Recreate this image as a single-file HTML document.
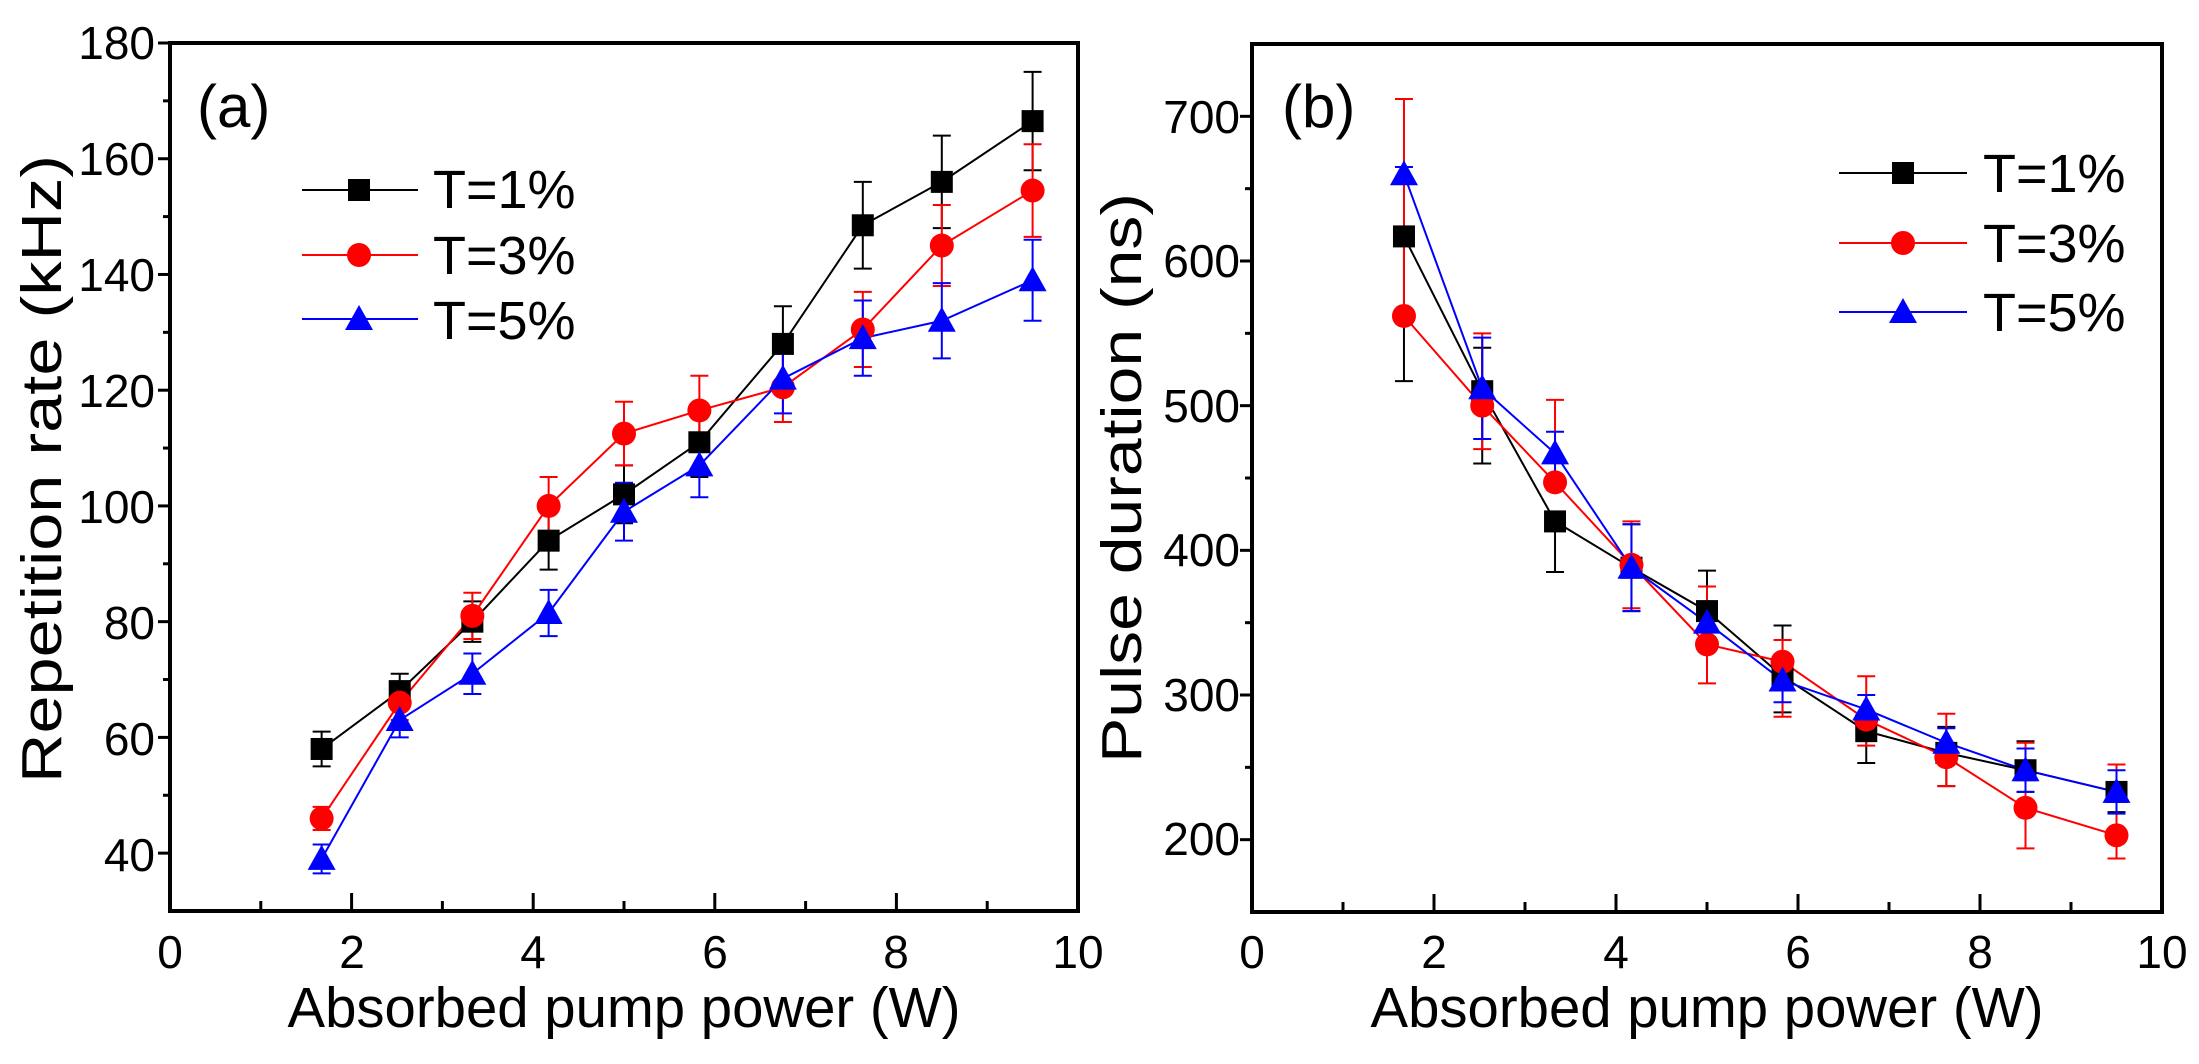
<!DOCTYPE html>
<html><head><meta charset="utf-8"><style>
html,body{margin:0;padding:0;background:#fff;}
svg{display:block;font-family:"Liberation Sans",Arial,sans-serif;}
</style></head><body>
<svg id="s" width="2199" height="1064" viewBox="0 0 2199 1064" xmlns="http://www.w3.org/2000/svg">
<rect width="2199" height="1064" fill="#fff"/>
<g id="g"></g>
<g font-size="46" text-anchor="end">
<text x="155" y="59">180</text><text x="155" y="175">160</text><text x="155" y="291">140</text>
<text x="155" y="407">120</text><text x="155" y="523">100</text><text x="155" y="639">80</text>
<text x="155" y="755">60</text><text x="155" y="871">40</text>
</g>
<g font-size="46" text-anchor="middle">
<text x="170" y="968">0</text><text x="352" y="968">2</text><text x="533" y="968">4</text>
<text x="715" y="968">6</text><text x="896" y="968">8</text><text x="1078" y="968">10</text>
<text x="1252" y="968">0</text><text x="1434" y="968">2</text><text x="1616" y="968">4</text>
<text x="1798" y="968">6</text><text x="1980" y="968">8</text><text x="2162" y="968">10</text>
</g>
<g font-size="46" text-anchor="end">
<text x="1240" y="855">200</text><text x="1240" y="711">300</text><text x="1240" y="566">400</text>
<text x="1240" y="422">500</text><text x="1240" y="277">600</text><text x="1240" y="133">700</text>
</g>
<text x="624" y="1027" font-size="57" text-anchor="middle" textLength="673" lengthAdjust="spacingAndGlyphs">Absorbed pump power (W)</text>
<text x="1707" y="1027" font-size="57" text-anchor="middle" textLength="673" lengthAdjust="spacingAndGlyphs">Absorbed pump power (W)</text>
<text transform="translate(61,469) rotate(-90)" font-size="57" text-anchor="middle" textLength="628" lengthAdjust="spacingAndGlyphs">Repetition rate (kHz)</text>
<text transform="translate(1141,478) rotate(-90)" font-size="57" text-anchor="middle" textLength="570" lengthAdjust="spacingAndGlyphs">Pulse duration (ns)</text>
<text x="197" y="127" font-size="60">(a)</text>
<text x="1282" y="127" font-size="60">(b)</text>
<g font-size="54">
<text x="433" y="208">T=1%</text><text x="433" y="274">T=3%</text><text x="433" y="339">T=5%</text>
<text x="1983" y="192">T=1%</text><text x="1983" y="262">T=3%</text><text x="1983" y="331">T=5%</text>
</g>
</svg>
<script>
const NS="http://www.w3.org/2000/svg",g=document.getElementById("g");
function el(t,a){const e=document.createElementNS(NS,t);for(const k in a)e.setAttribute(k,a[k]);g.appendChild(e);return e;}
const cols=["#000","#f00","#00f"];
function marker(k,x,y){
 if(k==0)el("rect",{x:x-11,y:y-11,width:22,height:22,fill:cols[0]});
 else if(k==1)el("circle",{cx:x,cy:y,r:12,fill:cols[1]});
 else el("polygon",{points:`${x-14},${y+11} ${x+14},${y+11} ${x},${y-14}`,fill:cols[2]});}
const X=[1.67,2.53,3.33,4.17,5.0,5.83,6.75,7.63,8.5,9.5];
function panel(L,R,T,B,y0,y1,minor,major,yticks,data){
 const sx=v=>L+(R-L)*v/10, sy=v=>B-(B-T)*(v-y0)/(y1-y0);
 for(let v=0;v<=10;v++){const x=sx(v);el("line",{x1:x,x2:x,y1:B,y2:B-(v%2?10:18),stroke:"#000","stroke-width":3});}
 for(let v=yticks[0];v<=yticks[1];v+=minor){const y=sy(v);const mj=Math.abs((v/major)-Math.round(v/major))<1e-6;el("line",{x1:L,x2:L-(mj?12:7),y1:y,y2:y,stroke:"#000","stroke-width":3});}
 data.forEach((d,k)=>{
  const pts=d.v.map((v,i)=>sx(X[i])+","+sy(v)).join(" ");
  el("polyline",{points:pts,fill:"none",stroke:cols[k],"stroke-width":2});
  d.v.forEach((v,i)=>{const x=sx(X[i]);const e=d.e[i];const lo=Array.isArray(e)?e[0]:e,hi=Array.isArray(e)?e[1]:e;
   el("line",{x1:x,x2:x,y1:sy(v-lo),y2:sy(v+hi),stroke:cols[k],"stroke-width":2});
   [v-lo,v+hi].forEach(w=>el("line",{x1:x-9,x2:x+9,y1:sy(w),y2:sy(w),stroke:cols[k],"stroke-width":2}));});
 });
 data.forEach((d,k)=>d.v.forEach((v,i)=>marker(k,sx(X[i]),sy(v))));
 el("rect",{x:L,y:T,width:R-L,height:B-T,fill:"none",stroke:"#000","stroke-width":4});
}
panel(170,1078,43,911,30,180,10,20,[40,180],[
 {v:[58,68,80,94,102,111,128,148.5,156,166.5],e:[3,3,3.5,5,5,6,6.5,7.5,8,8.5]},
 {v:[46,66,81,100,112.5,116.5,120.5,130.5,145,154.5],e:[2,3,4,5,5.5,6,6,6.5,7,8]},
 {v:[39,63,71,81.5,99,107,122,129,132,139],e:[2.5,3,3.5,4,5,5.5,6,6.5,6.5,7]}]);
panel(1252,2162,44,912,150,750,50,100,[200,700],[
 {v:[617,510,420,388,358,313,275,260,248,233],e:[[100,0],[50,30],[35,5],[30,30],[5,28],[25,35],[22,12],[23,18],[15,20],[14,5]]},
 {v:[562,500,447,390,335,323,283,257,222,203],e:[[5,150],[30,50],[5,57],[30,30],[27,40],[38,15],[18,30],[20,30],[28,45],[16,49]]},
 {v:[660,512,467,388,350,310,290,267,248,233],e:[5,35,15,30,10,15,10,10,15,15]}]);
[[302,418,359,[190,255,319]],[1839,1967,1903,[173,243,312]]].forEach(l=>{
 l[3].forEach((y,k)=>{el("line",{x1:l[0],x2:l[1],y1:y,y2:y,stroke:cols[k],"stroke-width":2});marker(k,l[2],y);});});
</script>
</body></html>
